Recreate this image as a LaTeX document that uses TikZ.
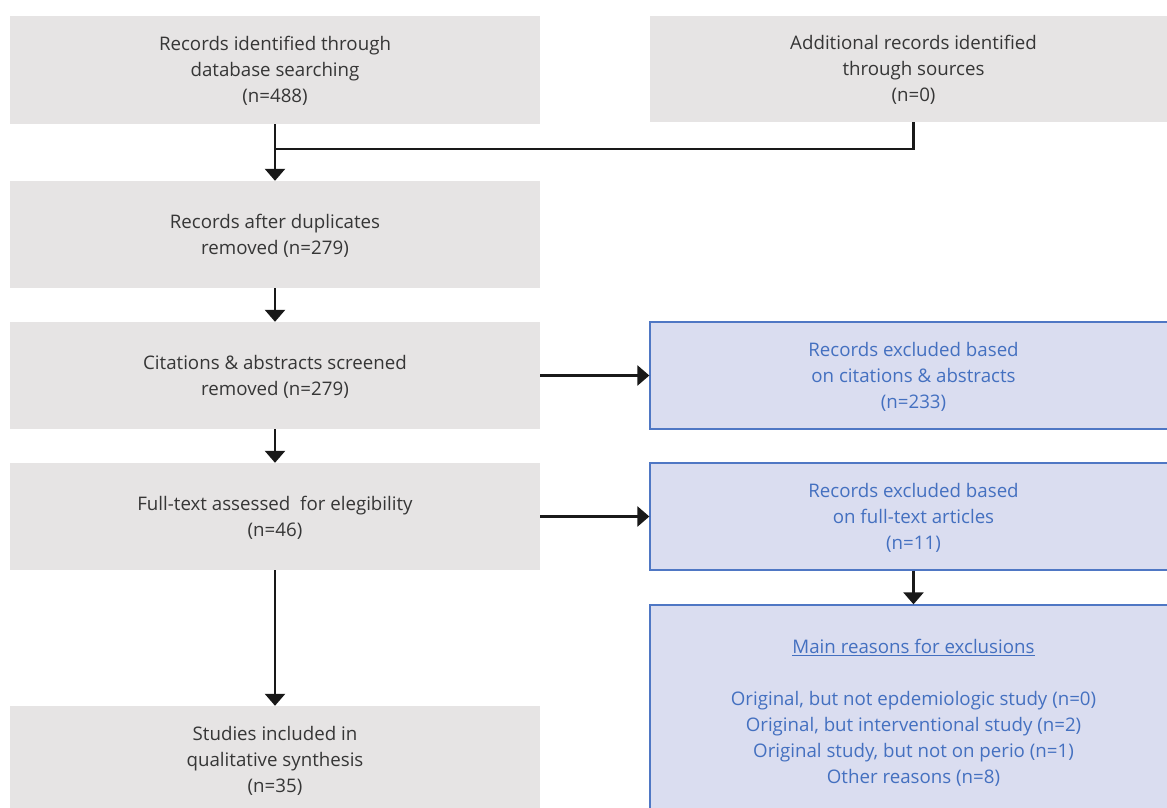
\documentclass[tikz,border=0pt]{standalone}
\usepackage{fontspec}
\setmainfont{Open Sans}
\usetikzlibrary{arrows.meta}
\definecolor{grayfill}{HTML}{E6E4E4}
\definecolor{bluefill}{HTML}{DADDF0}
\definecolor{blueline}{HTML}{4F77C4}
\definecolor{bluetext}{HTML}{4470C0}
\definecolor{darktext}{HTML}{363636}
\tikzset{
  graybox/.style={fill=grayfill, draw=none, text=darktext, align=center, inner sep=0pt,
    text depth=0.5pt, font=\fontsize{18.7pt}{26pt}\selectfont},
  bluebox/.style={fill=bluefill, draw=blueline, line width=1.3pt, text=bluetext, align=center, inner sep=0pt,
    text depth=0.5pt, font=\fontsize{18.7pt}{26pt}\selectfont},
  conn/.style={line width=2.6pt, draw=black!90},
  arr/.style={conn, -{Triangle[width=20pt,length=12pt]}},
}
\begin{document}
\begin{tikzpicture}[x=1pt,y=-1pt]
\useasboundingbox (0,0) rectangle (1167,808);
\node[graybox, minimum width=530pt, minimum height=108pt] (b1) at (275,70)
  {Records identified through\\database searching\\(n=488)};
\node[graybox, minimum width=527pt, minimum height=106pt] (b2) at (913.5,69)
  {Additional records identified\\through sources\\(n=0)};
\node[graybox, minimum width=530pt, minimum height=107pt] (b3) at (275,234.5)
  {Records after duplicates\\removed (n=279)};
\node[graybox, minimum width=530pt, minimum height=107pt] (b4) at (275,375.5)
  {Citations \& abstracts screened\\removed (n=279)};
\node[bluebox, minimum width=527pt, minimum height=107pt] (b5) at (913.5,375.5)
  {Records excluded based\\on citations \& abstracts\\(n=233)};
\node[graybox, minimum width=530pt, minimum height=107pt] (b6) at (275,516.5)
  {Full-text assessed\ \ for elegibility\\(n=46)};
\node[bluebox, minimum width=527pt, minimum height=107pt] (b7) at (913.5,516.5)
  {Records excluded based\\on full-text articles\\(n=11)};
\node[bluebox, minimum width=527pt, minimum height=214pt] (b8) at (913.5,712)
  {\underline{Main reasons for exclusions}\\[26pt]Original, but not epdemiologic study (n=0)\\Original, but interventional study (n=2)\\Original study, but not on perio (n=1)\\Other reasons (n=8)};
\node[graybox, minimum width=530pt, minimum height=108pt] (b9) at (275,760)
  {Studies included in\\qualitative synthesis\\(n=35)};
\coordinate (j) at (b1.south |- 0,149);
\draw[arr] (b1.south) -- (b3.north);
\draw[conn] (b2.south) |- (j);
\draw[arr] (b3.south) -- (b4.north);
\draw[arr] (b4.east) -- (b5.west);
\draw[arr] (b4.south) -- (b6.north);
\draw[arr] (b6.east) -- (b7.west);
\draw[arr] (b6.south) -- (b9.north);
\draw[arr] (b7.south) -- (b8.north);
\end{tikzpicture}
\end{document}
